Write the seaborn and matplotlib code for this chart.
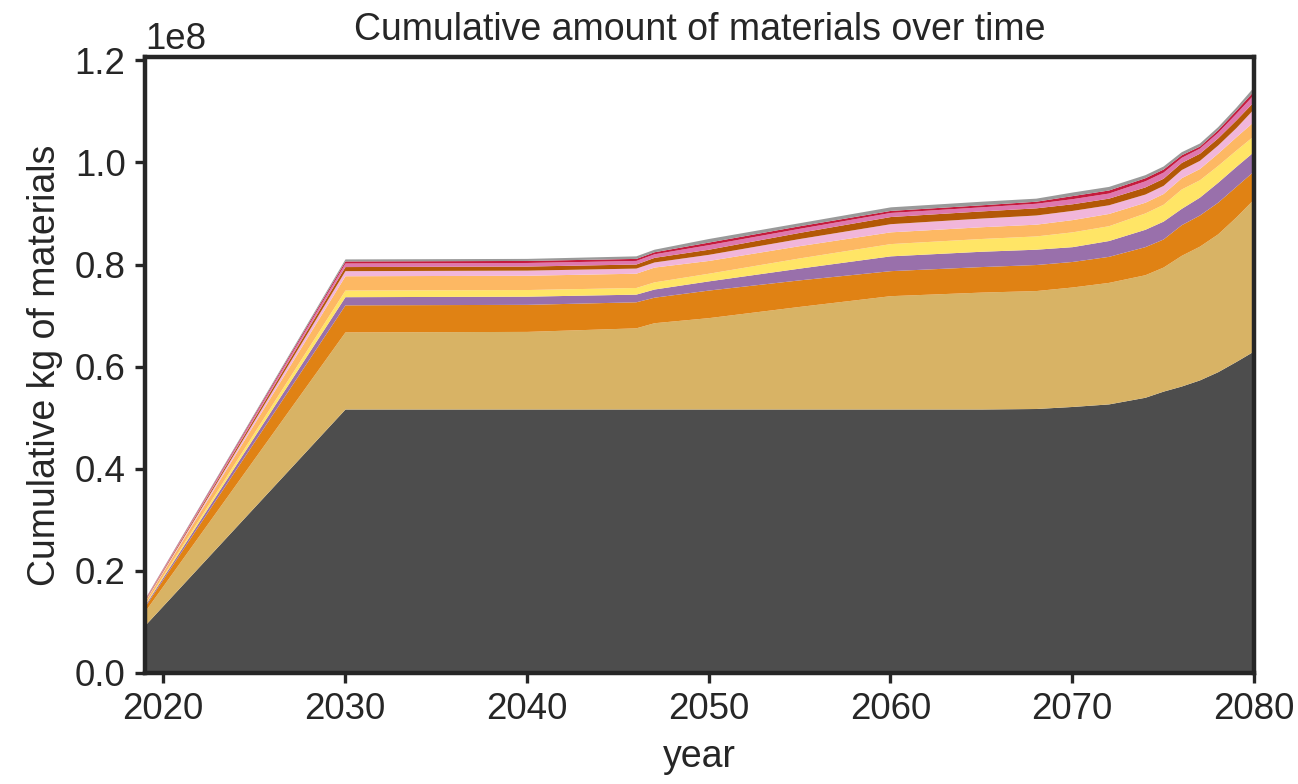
import numpy as np
import pandas as pd
import matplotlib
matplotlib.use("Agg")
import matplotlib.pyplot as plt
import seaborn as sns

# Years of the scenario
years = [2019, 2030, 2040, 2046, 2047, 2050, 2055, 2060, 2065, 2068,
         2070, 2072, 2074, 2075, 2076, 2077, 2078, 2079, 2080]

# Cumulative mass per material, in millions of kg
glass = [9.4, 51.7, 51.7, 51.7, 51.7, 51.7, 51.7, 51.7, 51.7, 51.8,
         52.2, 52.7, 54.0, 55.2, 56.2, 57.4, 59.0, 61.0, 63.1]
aluminium = [2.75, 15.1, 15.2, 15.9, 16.9, 17.9, 20.1, 22.2, 22.9, 23.1,
             23.4, 23.8, 24.0, 24.3, 25.6, 26.2, 27.0, 28.3, 29.8]
silicon = [0.95, 5.3, 5.3, 5.1, 5.0, 5.4, 5.2, 4.9, 5.0, 5.1,
           5.0, 5.1, 5.5, 5.5, 6.0, 6.1, 6.2, 6.0, 5.5]
copper = [0.3, 1.6, 1.6, 1.5, 1.6, 1.8, 2.3, 2.9, 3.0, 3.0,
          2.9, 3.1, 3.4, 3.5, 3.2, 3.5, 3.9, 3.9, 3.8]
encapsulant = [0.2, 1.3, 1.3, 1.3, 1.4, 1.5, 2.0, 2.4, 2.5, 2.6,
               2.9, 2.9, 3.2, 3.3, 3.8, 3.4, 3.3, 3.2, 3.1]
backsheet = [0.5, 2.8, 2.8, 2.8, 2.9, 2.5, 2.4, 2.3, 2.3, 2.3,
             2.4, 2.4, 2.1, 2.1, 2.2, 2.2, 2.4, 2.6, 2.8]
steel = [0.15, 1.0, 1.0, 1.0, 1.0, 1.2, 1.4, 1.6, 1.7, 1.8,
         1.8, 1.7, 1.6, 1.6, 1.6, 1.6, 1.6, 1.8, 2.5]
concrete = [0.15, 0.8, 0.8, 0.8, 0.9, 1.0, 1.2, 1.4, 1.4, 1.4,
            1.3, 1.3, 1.4, 1.4, 1.4, 1.4, 1.4, 1.5, 1.4]
plastics = [0.13, 0.7, 0.7, 0.7, 0.7, 0.9, 0.8, 0.8, 0.8, 0.9,
            1.0, 1.0, 1.2, 1.2, 1.0, 1.0, 1.1, 1.3, 1.4]
silver = [0.07, 0.4, 0.4, 0.4, 0.4, 0.5, 0.5, 0.4, 0.4, 0.4,
          0.6, 0.6, 0.6, 0.6, 0.5, 0.4, 0.5, 0.6, 0.7]
other = [0.07, 0.4, 0.4, 0.5, 0.5, 0.7, 0.6, 0.7, 0.7, 0.6,
         0.7, 0.7, 0.6, 0.6, 0.6, 0.6, 0.6, 0.6, 0.8]

materials = ["glass", "aluminium", "silicon", "copper", "encapsulant",
             "backsheet", "steel", "concrete", "plastics", "silver", "other"]
palette = ["#4d4d4d", "#d8b365", "#e08214", "#9970ab", "#ffe566",
           "#fdb863", "#f1b6da", "#b35806", "#de77ae", "#c51b3d", "#9a9a9a"]

df = pd.DataFrame({
    "year": years,
    "glass": glass, "aluminium": aluminium, "silicon": silicon,
    "copper": copper, "encapsulant": encapsulant, "backsheet": backsheet,
    "steel": steel, "concrete": concrete, "plastics": plastics,
    "silver": silver, "other": other,
})

sns.set_theme(style="ticks")
plt.rcParams["font.family"] = ["Liberation Sans", "DejaVu Sans"]
plt.rcParams["font.size"] = 13

fig = plt.figure(figsize=(6.49, 3.92), dpi=200)
ax = fig.add_axes([0.1117, 0.1416, 0.8544, 0.7857])

ax.stackplot(df["year"], *[df[m] * 1e6 for m in materials],
             colors=palette, labels=materials, linewidth=0)
ax.set_xlim(df["year"].min(), df["year"].max())

ax.set_title("Cumulative amount of materials over time", fontsize=13.5, pad=6)
ax.set_xlabel("year", fontsize=13.5, labelpad=4)
ax.set_ylabel("Cumulative kg of materials", fontsize=13.5)
ax.tick_params(axis="both", labelsize=13.2, width=1.2, length=3.5, color="#262626")
ax.yaxis.get_offset_text().set_fontsize(13.2)

for side in ["left", "right", "top", "bottom"]:
    ax.spines[side].set_visible(True)
    ax.spines[side].set_linewidth(1.6)
    ax.spines[side].set_color("#262626")

fig.savefig("out.png", dpi=200)
